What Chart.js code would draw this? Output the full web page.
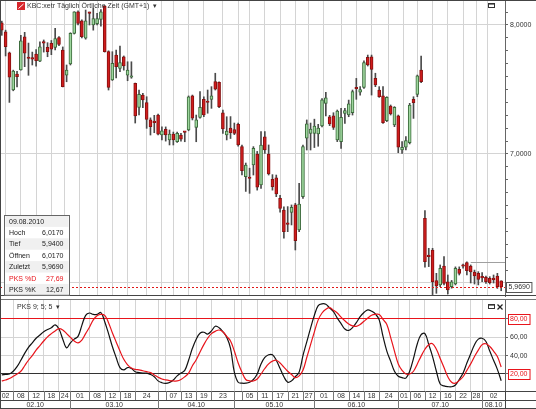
<!DOCTYPE html>
<html>
<head>
<meta charset="utf-8">
<script src="https://cdn.jsdelivr.net/npm/chart.js@4.4.1/dist/chart.umd.min.js"></script>
<style>
  html, body { margin: 0; padding: 0; background: #fff; }
  #wrap { position: relative; width: 536px; height: 409px; overflow: hidden; background: #fff; }
  #kursBox { position: absolute; left: 0; top: 0; width: 536px; height: 297px; }
  #pksBox { position: absolute; left: 0; top: 297px; width: 536px; height: 112px; }
</style>
</head>
<body>
<div id="wrap">
  <div id="kursBox"><canvas id="kurs"></canvas></div>
  <div id="pksBox"><canvas id="pks"></canvas></div>
</div>
<script>
// 1. DATEN: KBC Xetra, ein Wert pro Handelstag (03.02.2010 - 09.08.2010)
const eroeffnung = [8.016,7.948,7.785,7.496,7.62,7.651,7.909,7.745,7.74,7.775,
  7.72,7.863,7.827,7.858,7.827,7.902,7.806,7.612,7.698,7.935,
  8.103,8.033,7.897,8.095,8.0,8.01,8.044,8.147,7.793,7.574,
  7.767,7.664,7.754,7.612,7.595,7.548,7.362,7.457,7.398,7.264,
  7.248,7.302,7.147,7.191,7.109,7.155,7.095,7.147,7.171,7.186,
  7.45,7.207,7.284,7.424,7.402,7.424,7.561,7.556,7.32,7.147,
  7.2,7.19,7.23,7.057,6.824,6.812,6.915,7.0,6.76,7.134,
  7.0,6.804,6.816,6.656,6.566,6.456,6.548,6.605,6.411,6.669,
  7.122,7.16,7.16,7.155,7.217,7.393,7.289,7.295,7.109,7.096,
  7.315,7.302,7.32,7.514,7.48,7.517,7.749,7.754,7.586,7.496,
  7.45,7.258,7.372,7.225,7.295,7.031,7.052,7.088,7.424,7.462,
  7.651,6.501,6.217,6.256,6.018,5.985,6.132,6.01,5.972,5.992,
  6.106,6.132,6.158,6.132,6.085,6.075,6.044,6.044,6.036,6.03,
  6.054,6.017];
const hoch = [8.03,7.96,7.79,7.65,7.64,7.92,7.943,7.86,7.79,7.81,
  7.87,7.884,7.863,7.88,7.974,7.91,7.83,7.69,7.94,8.103,
  8.11,8.04,8.116,8.10,8.13,8.09,8.12,8.15,7.80,7.793,
  7.806,7.837,7.76,7.715,7.715,7.55,7.496,7.47,7.444,7.28,
  7.30,7.31,7.21,7.21,7.186,7.17,7.17,7.16,7.173,7.45,
  7.457,7.302,7.483,7.444,7.496,7.522,7.626,7.56,7.341,7.289,
  7.29,7.24,7.24,7.07,6.93,6.89,7.057,7.02,7.173,7.173,
  7.07,6.84,6.837,6.68,6.59,6.592,6.605,6.618,6.773,7.07,
  7.264,7.24,7.27,7.23,7.43,7.478,7.30,7.32,7.341,7.354,
  7.354,7.418,7.496,7.586,7.522,7.723,7.767,7.767,7.626,7.522,
  7.522,7.444,7.38,7.367,7.302,7.096,7.135,7.393,7.444,7.612,
  7.76,6.561,6.269,6.269,6.075,6.14,6.204,6.062,6.02,6.125,
  6.125,6.147,6.165,6.14,6.10,6.088,6.08,6.054,6.049,6.062,
  6.075,6.017];
const tief = [7.92,7.76,7.40,7.49,7.52,7.65,7.677,7.61,7.69,7.68,
  7.715,7.79,7.754,7.77,7.806,7.84,7.52,7.56,7.69,7.93,
  8.0,7.9,7.89,8.0,7.96,8.0,7.99,7.79,7.496,7.57,
  7.59,7.638,7.65,7.568,7.587,7.24,7.302,7.36,7.199,7.147,
  7.165,7.147,7.109,7.10,7.07,7.07,7.09,7.10,7.095,7.18,
  7.264,7.095,7.277,7.289,7.316,7.354,7.496,7.36,7.16,7.109,
  7.12,7.15,7.06,6.837,6.71,6.695,6.837,6.72,6.734,7.005,
  6.837,6.72,6.669,6.55,6.347,6.398,6.45,6.256,6.398,6.656,
  7.031,7.031,7.05,7.06,7.21,7.295,7.22,7.19,7.096,7.044,
  7.238,7.289,7.302,7.424,7.457,7.509,7.682,7.457,7.522,7.439,
  7.238,7.251,7.302,7.212,7.01,7.005,7.031,7.078,7.276,7.444,
  7.553,6.122,6.127,5.91,5.92,5.972,5.985,5.915,5.96,5.985,
  6.062,6.114,6.062,6.0,5.992,5.985,6.01,5.997,5.992,6.0,
  5.958,5.94];
const schluss = [7.96,7.832,7.595,7.643,7.60,7.878,7.781,7.74,7.735,7.723,
  7.83,7.86,7.793,7.812,7.894,7.85,7.522,7.651,7.935,8.103,
  8.013,7.909,8.033,8.09,8.05,8.05,8.103,7.793,7.517,7.703,
  7.677,7.708,7.682,7.651,7.60,7.295,7.463,7.419,7.269,7.212,
  7.243,7.153,7.18,7.147,7.155,7.109,7.16,7.114,7.168,7.444,
  7.277,7.264,7.362,7.302,7.399,7.45,7.502,7.367,7.194,7.178,
  7.165,7.16,7.07,6.87,6.915,6.81,7.044,6.742,7.07,7.031,
  6.845,6.747,6.69,6.579,6.398,6.454,6.587,6.328,6.612,7.057,
  7.233,7.194,7.217,7.2,7.419,7.436,7.233,7.207,7.333,7.284,
  7.336,7.388,7.483,7.506,7.499,7.708,7.69,7.656,7.535,7.444,
  7.243,7.439,7.31,7.362,7.052,7.052,7.104,7.38,7.398,7.605,
  7.561,6.165,6.204,6.01,5.977,6.114,5.997,5.946,6.01,6.114,
  6.075,6.13,6.096,6.085,6.054,6.028,6.04,6.01,6.003,6.026,
  5.972,5.969];

// Stochastik PKS 9; 5; 5
const pksK = [19,19.5,20,23,28,35,42.5,49,54,59,
  62.5,66,68.5,70.5,73.5,69,58,48.5,54,58,
  61,73,84,86.5,85,85,87,77,64,50,
  38,27,24.5,27,26,22.5,21.5,21,21,19.5,
  17,12.5,10.5,9.8,10.8,13.5,18,21,24,35,
  48,58,64.5,65.5,63.5,67,72,70.5,66,60,
  48,22,11,10,10,11,14,20,31,38,
  41,41,35,26,17,11,12.5,17,22,40,
  55,70,84,94.5,96.5,96,92,88,81,75,
  69,67.5,70.5,76,82.5,87,90,88.5,85.5,79,
  61,45,34,23,17.5,16,15.5,23,37,53,
  63,64,52,39,23,9,7,6.2,6.1,8,
  14,21,32,42,52,58,59,55.5,45,35,
  25,12.67];
const pksD = [12.5,13.5,15,17.5,20,23,29,35,40,46,
  51,56,60.5,64,67,69.5,68,64,60,56,
  54,57,64,71,79,83.5,85,84,76,65,
  55,45,36,30,26.5,25,24.5,23.5,22.5,21.5,
  19,16.5,14.5,13.5,12.8,12.4,12.4,14,17,21,
  29,35.5,44,52,59,64,66.5,68,66,61,
  56,45,32,22,14,12.5,12.4,14.5,20,26,
  31,34,35,32,27.5,23,19.5,16,18,24,
  38,52,66,79,86.5,90.5,92.3,89.5,86.5,82,
  78,74.5,72.5,72,74,77.5,81,84,85,85,
  79.5,74,60,45,31,24,20,20,23,31,
  39.5,47,52,53,47,37,27,17,11,10,
  13,17,24,31,39,46,52,53,50,45,
  39,27.69];

// Achsenbeschriftung: Handelstag (Index), an dem eine Beschriftung beginnt
const tagIndex = [-1,3,7,11,15,18,23,27,31,35,41,43,47,51,55,61,63,67,71,75,79,82,87,91,95,99,104,107,111,115,119,123,126];
const tagLabels = ['02','08','12','18','24','01','08','12','18','24','','07','13','19','23','','05','11','17','21','27','01','08','14','18','24','01','06','12','16','22','28','02'];
const monatIndex = [-1,18,41,61,82,104,126];
const monatLabels = ['02.10','03.10','04.10','05.10','06.10','07.10','08.10'];
const pksTicks = [20, 40, 60, 80];
const letzterTag = '09.08.2010';
const spanneHoch = 6.165, spanneStart = 123;

// 2. GRUNDEINSTELLUNGEN
const X_MIN = -0.47, X_MAX = 132.0;
const KURS_MIN = 5.8992, KURS_MAX = 8.1938;
const PKS_MIN = 1.45, PKS_MAX = 100.7;
const SCHRIFT = '7px "Liberation Sans", Arial, sans-serif';
Chart.defaults.font.family = '"Liberation Sans", Arial, sans-serif';
Chart.defaults.font.size = 7;
Chart.defaults.color = '#333';

const n = schluss.length - 1;
function zahl(v, stellen) { return v.toFixed(stellen).replace('.', ','); }
function steigt(i) { return schluss[i] >= eroeffnung[i]; }
function linie(ctx, x1, y1, x2, y2) { ctx.beginPath(); ctx.moveTo(x1, y1); ctx.lineTo(x2, y2); ctx.stroke(); }

function rechteAchse(s) { s.width = 31; s.paddingTop = 0; s.paddingBottom = 0; }
function xAchse(s) { s.height = 0; s.paddingLeft = 0; s.paddingRight = 0; }
function tagGitter(s) { s.ticks = tagIndex.slice(1).map(v => ({ value: v })); }

function fensterIcon(ctx, x, y) {
    ctx.strokeStyle = '#333'; ctx.lineWidth = 1;
    ctx.strokeRect(x + 0.5, y + 0.5, 6, 4);
    ctx.fillStyle = '#333'; ctx.fillRect(x, y, 7, 1.6);
}

// 3. DEKO HAUPTCHART (Titel, Kurslinie, Infokasten)
const kursDeko = {
    id: 'kursDeko',
    afterDatasetsDraw(chart) {
        const { ctx, chartArea: a, scales: { x, y } } = chart;
        ctx.save();
        const yl = Math.round(y.getPixelForValue(schluss[n])) + 0.5;
        ctx.strokeStyle = '#e01818'; ctx.lineWidth = 1; ctx.setLineDash([2, 2]);
        linie(ctx, a.left, yl, a.right, yl);
        ctx.setLineDash([]);
        ctx.strokeStyle = '#a0a0a0';
        const yr = Math.round(y.getPixelForValue(spanneHoch)) + 0.5;
        linie(ctx, x.getPixelForValue(spanneStart), yr, a.right, yr);
        ctx.restore();
    },
    afterDraw(chart) {
        const { ctx, chartArea: a, scales: { y } } = chart;
        ctx.save();
        // Rahmen
        ctx.strokeStyle = '#444'; ctx.lineWidth = 1;
        linie(ctx, 0, 0.5, chart.width, 0.5);
        linie(ctx, 0.5, 0, 0.5, chart.height);
        linie(ctx, 0, 295.5, chart.width, 295.5);

        // Titel
        ctx.fillStyle = '#d8262c'; ctx.fillRect(17, 2, 8, 8);
        ctx.strokeStyle = '#fff'; ctx.lineWidth = 1;
        linie(ctx, 18.5, 8.5, 23.5, 4);
        ctx.font = SCHRIFT; ctx.fillStyle = '#333'; ctx.textBaseline = 'middle'; ctx.textAlign = 'left';
        const titel = 'KBC:xetr Täglich Örtliche Zeit (GMT+1)';
        ctx.fillText(titel, 27, 6.5);
        ctx.fillText('▾', 31 + ctx.measureText(titel).width, 6.5);
        fensterIcon(ctx, 488, 3);

        // Kursmarke rechts
        const yl = Math.round(y.getPixelForValue(schluss[n]));
        const txt = zahl(schluss[n], 4);
        const tw = ctx.measureText(txt).width;
        ctx.fillStyle = '#fff'; ctx.fillRect(506.5, yl - 4.5, tw + 4, 10);
        ctx.strokeStyle = '#555'; ctx.strokeRect(506.5, yl - 4.5, tw + 4, 10);
        ctx.fillStyle = '#333'; ctx.fillText(txt, 508.5, yl + 0.5);

        // Infokasten
        const zeilen = [
            [letzterTag, '', '#222'],
            ['Hoch', zahl(hoch[n], 4), '#222'],
            ['Tief', zahl(tief[n], 4), '#222'],
            ['Öffnen', zahl(eroeffnung[n], 4), '#222'],
            ['Zuletzt', zahl(schluss[n], 4), '#222'],
            ['PKS %D', zahl(pksD[n], 2), '#e8141b'],
            ['PKS %K', zahl(pksK[n], 2), '#222']
        ];
        const x0 = 4.5, y0 = 215.5, w = 65, h = 11.4;
        ctx.fillStyle = '#fff'; ctx.fillRect(x0, y0, w, h * zeilen.length);
        zeilen.forEach((z, k) => {
            if (k % 2 === 0) { ctx.fillStyle = '#f0f0f0'; ctx.fillRect(x0 + 1, y0 + k * h, w - 2, h); }
            ctx.fillStyle = z[2];
            ctx.textAlign = 'left';
            ctx.fillText(z[0], x0 + 4.5, y0 + k * h + h / 2 + 0.5);
            ctx.textAlign = 'right';
            ctx.fillText(z[1], x0 + w - 6, y0 + k * h + h / 2 + 0.5);
        });
        ctx.strokeStyle = '#666'; ctx.strokeRect(x0, y0, w, h * zeilen.length);
        ctx.restore();
    }
};

// 4. DEKO STOCHASTIK (Titel, Wertkästen, Datumszeilen)
const pksDeko = {
    id: 'pksDeko',
    afterDraw(chart) {
        const { ctx, chartArea: a, scales: { x, y } } = chart;
        ctx.save();
        ctx.strokeStyle = '#777'; ctx.lineWidth = 1;
        linie(ctx, 0, 2.5, chart.width, 2.5);
        ctx.strokeStyle = '#444';
        linie(ctx, 0.5, 0, 0.5, chart.height);

        ctx.font = SCHRIFT; ctx.fillStyle = '#333'; ctx.textBaseline = 'middle'; ctx.textAlign = 'left';
        ctx.fillText('PKS 9; 5; 5', 17, 10);
        ctx.fillText('▾', 21 + ctx.measureText('PKS 9; 5; 5').width, 10);
        fensterIcon(ctx, 488, 7);
        ctx.strokeStyle = '#222'; ctx.lineWidth = 1.3;
        linie(ctx, 497.5, 7.5, 502.5, 12.5);
        linie(ctx, 502.5, 7.5, 497.5, 12.5);

        // Kästen um 80 und 20
        ctx.lineWidth = 1; ctx.strokeStyle = '#e8141b';
        [80, 20].forEach(v => {
            const yy = Math.round(y.getPixelForValue(v));
            const tw = ctx.measureText(zahl(v, 2)).width;
            ctx.strokeRect(508.5, yy - 4.5, tw + 4, 10);
        });

        // Datumszeilen
        const y0 = a.bottom, y1 = y0 + 9, y2 = chart.height;
        ctx.fillStyle = '#fff'; ctx.fillRect(1, y0, chart.width, y2 - y0);
        ctx.strokeStyle = '#444';
        linie(ctx, 0, y0 + 0.5, chart.width, y0 + 0.5);
        linie(ctx, 0, y1 + 0.5, chart.width, y1 + 0.5);
        linie(ctx, 0, y2 - 0.5, chart.width, y2 - 0.5);
        linie(ctx, a.right + 0.5, y0, a.right + 0.5, y2);
        ctx.strokeStyle = '#777';
        ctx.fillStyle = '#333'; ctx.textAlign = 'center';
        tagIndex.forEach((t, k) => {
            const xa = x.getPixelForValue(t);
            const xb = k + 1 < tagIndex.length ? x.getPixelForValue(tagIndex[k + 1]) : a.right;
            if (k > 0) linie(ctx, Math.round(xa) + 0.5, y0, Math.round(xa) + 0.5, y1);
            ctx.fillText(tagLabels[k], (xa + xb) / 2, y0 + 5);
        });
        monatIndex.forEach((t, k) => {
            const xa = x.getPixelForValue(t);
            const xb = k + 1 < monatIndex.length ? x.getPixelForValue(monatIndex[k + 1]) : a.right;
            if (k > 0) linie(ctx, Math.round(xa) + 0.5, y1, Math.round(xa) + 0.5, y2);
            ctx.fillText(monatLabels[k], (Math.max(xa, 0) + xb) / 2, y1 + 5);
        });
        ctx.restore();
    }
};

// 5. KERZENCHART
new Chart(document.getElementById('kurs'), {
    type: 'bar',
    data: {
        datasets: [
            {
                label: 'Kerze',
                grouped: false,
                barThickness: 3,
                minBarLength: 1.5,
                borderWidth: 1,
                borderSkipped: false,
                data: schluss.map((c, i) => ({ x: i, y: [Math.min(eroeffnung[i], c), Math.max(eroeffnung[i], c)] })),
                backgroundColor: ctx => steigt(ctx.dataIndex) ? '#9dd69d' : '#d01c1c',
                borderColor: ctx => steigt(ctx.dataIndex) ? '#3a6a3a' : '#861010'
            },
            {
                label: 'Docht',
                grouped: false,
                barThickness: 1,
                data: hoch.map((h, i) => ({ x: i, y: [tief[i], h] })),
                backgroundColor: '#4a4a4a'
            }
        ]
    },
    options: {
        responsive: true,
        maintainAspectRatio: false,
        animation: false,
        events: [],
        layout: { padding: { left: 0, right: 0, top: 0, bottom: 1 } },
        plugins: { legend: { display: false }, tooltip: { enabled: false } },
        scales: {
            x: {
                type: 'linear', min: X_MIN, max: X_MAX, offset: false,
                afterBuildTicks: tagGitter, afterFit: xAchse,
                ticks: { display: false },
                grid: { color: '#d4d4d4', drawTicks: false },
                border: { display: false }
            },
            y: {
                position: 'right', min: KURS_MIN, max: KURS_MAX,
                afterBuildTicks: s => {
                    s.ticks = [];
                    for (let k = Math.ceil(KURS_MIN * 10); k <= Math.floor(KURS_MAX * 10); k++) s.ticks.push({ value: k / 10 });
                },
                afterFit: rechteAchse,
                ticks: {
                    padding: 2,
                    callback: v => {
                        if (Math.round(v * 10) % 10 !== 0) return '';
                        if (Math.abs(v - schluss[n]) < 0.1) return '';
                        return zahl(v, 4);
                    }
                },
                grid: {
                    color: c => (Math.round(c.tick.value * 10) % 10 === 0) ? '#d4d4d4' : 'rgba(0,0,0,0)',
                    tickColor: '#666',
                    tickLength: 3
                },
                border: { display: true, color: '#666' }
            }
        }
    },
    plugins: [kursDeko]
});

// 6. STOCHASTIK
new Chart(document.getElementById('pks'), {
    type: 'line',
    data: {
        datasets: [
            {
                label: 'PKS %D',
                data: pksD.map((v, i) => ({ x: i, y: v })),
                borderColor: '#e8141b', borderWidth: 1.2, tension: 0.4, pointRadius: 0, fill: false
            },
            {
                label: 'PKS %K',
                data: pksK.map((v, i) => ({ x: i, y: v })),
                borderColor: '#111', borderWidth: 1.2, tension: 0.4, pointRadius: 0, fill: false
            }
        ]
    },
    options: {
        responsive: true,
        maintainAspectRatio: false,
        animation: false,
        events: [],
        layout: { padding: { left: 0, right: 0, top: 3, bottom: 18 } },
        plugins: { legend: { display: false }, tooltip: { enabled: false } },
        scales: {
            x: {
                type: 'linear', min: X_MIN, max: X_MAX, offset: false,
                afterBuildTicks: tagGitter, afterFit: xAchse,
                ticks: { display: false },
                grid: { color: '#d4d4d4', drawTicks: false },
                border: { display: false }
            },
            y: {
                position: 'right', min: PKS_MIN, max: PKS_MAX,
                afterBuildTicks: s => { s.ticks = pksTicks.map(v => ({ value: v })); },
                afterFit: rechteAchse,
                ticks: {
                    padding: 2,
                    color: c => (c.tick.value === 80 || c.tick.value === 20) ? '#e8141b' : '#333',
                    callback: v => zahl(v, 2)
                },
                grid: {
                    color: c => c.tick.value === 80 ? '#e8141b' : (c.tick.value === 20 ? '#333' : '#d4d4d4'),
                    tickColor: '#666',
                    tickLength: 3
                },
                border: { display: true, color: '#666' }
            }
        }
    },
    plugins: [pksDeko]
});
</script>
</body>
</html>
